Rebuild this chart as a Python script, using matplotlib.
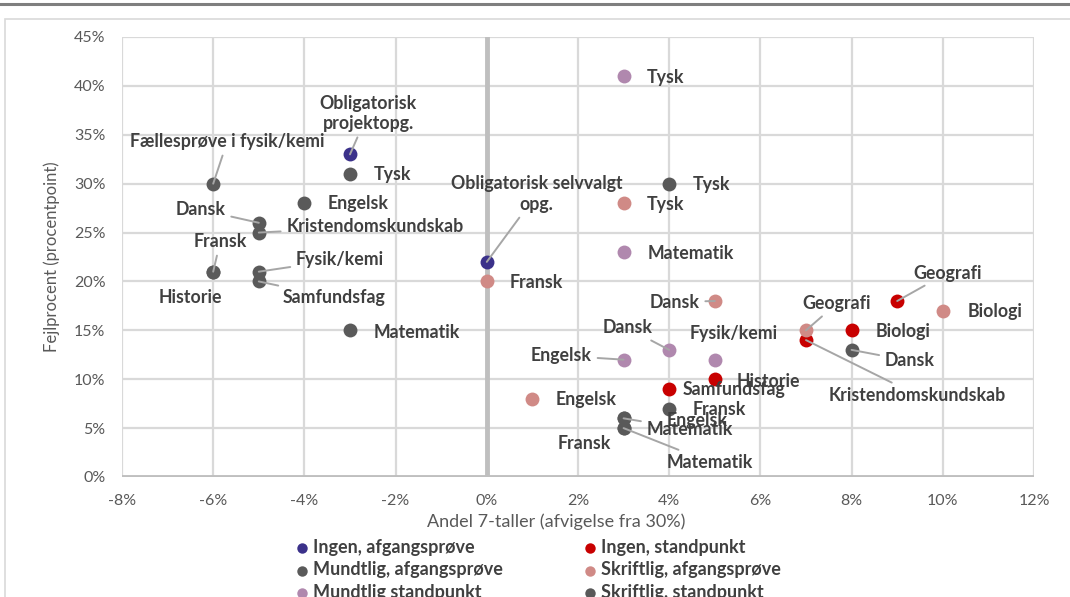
import matplotlib
matplotlib.use("Agg")
import matplotlib.pyplot as plt
from matplotlib.patches import Rectangle
from matplotlib.lines import Line2D
from matplotlib.ticker import FuncFormatter

plt.rcParams['font.family'] = ['Lato', 'DejaVu Sans']

# series data (x = andel 7-taller afvigelse i %, y = fejlprocent i %)
ingen_afg_x = [-3, 0]
ingen_afg_y = [33, 22]
ingen_afg_lab = ["Obligatorisk\nprojektopg.", "Obligatorisk selvvalgt\nopg."]

mundt_afg_x = [-6, -3, -4, -5, -5, -6, -6, -5, -5, -3]
mundt_afg_y = [30, 31, 28, 26, 25, 21, 21, 21, 20, 15]
mundt_afg_lab = ["Fællesprøve i fysik/kemi", "Tysk", "Engelsk", "Dansk",
                 "Kristendomskundskab", "Fransk", "Historie", "Fysik/kemi",
                 "Samfundsfag", "Matematik"]

mundt_std_x = [3, 3, 4, 3, 5]
mundt_std_y = [41, 23, 13, 12, 12]
mundt_std_lab = ["Tysk", "Matematik", "Dansk", "Engelsk", "Fysik/kemi"]

ingen_std_x = [9, 8, 7, 5, 4]
ingen_std_y = [18, 15, 14, 10, 9]
ingen_std_lab = ["Geografi", "Biologi", "Kristendomskundskab", "Historie", "Samfundsfag"]

skr_afg_x = [0, 3, 5, 7, 10, 1]
skr_afg_y = [20, 28, 18, 15, 17, 8]
skr_afg_lab = ["Fransk", "Tysk", "Dansk", "Geografi", "Biologi", "Engelsk"]

skr_std_x = [4, 8, 4, 3, 3, 3, 3]
skr_std_y = [30, 13, 7, 6, 6, 5, 5]
skr_std_lab = ["Tysk", "Dansk", "Fransk", "Matematik", "Engelsk", "Fransk", "Matematik"]

# label offsets in pixels (dx, dy) and whether a leader line is drawn
ingen_afg_off = [(18, 41, 1), (50, 68, 1)]
mundt_afg_off = [(14, 42, 1), (42, -1, 0), (54, 0, 0), (-58, 13, 1), (116, 6, 1),
                 (7, 30, 1), (-23, -26, 0), (81, 12, 1), (75, -16, 1), (67, -2, 0)]
mundt_std_off = [(42, -1, 0), (67, -1, 0), (-42, 22, 1), (-62, 4, 1), (19, 26, 0)]
ingen_std_off = [(50, 28, 1), (51, -1, 0), (111, -55, 1), (54, -2, 0), (65, -1, 0)]
skr_afg_off = [(50, -1, 0), (42, -1, 0), (-40, -1, 1), (31, 27, 1), (52, -1, 0), (54, -1, 0)]
skr_std_off = [(42, -1, 0), (58, -11, 1), (50, -1, 0), (66, -11, 1), (74, -2, 0),
               (-39, -15, 0), (86, -34, 1)]

series = [
    ("Ingen, afgangsprøve", "#3B318A", ingen_afg_x, ingen_afg_y, ingen_afg_lab, ingen_afg_off),
    ("Mundtlig, afgangsprøve", "#5A5A5A", mundt_afg_x, mundt_afg_y, mundt_afg_lab, mundt_afg_off),
    ("Mundtlig standpunkt", "#B088AE", mundt_std_x, mundt_std_y, mundt_std_lab, mundt_std_off),
    ("Ingen, standpunkt", "#C80000", ingen_std_x, ingen_std_y, ingen_std_lab, ingen_std_off),
    ("Skriftlig, afgangsprøve", "#D08A86", skr_afg_x, skr_afg_y, skr_afg_lab, skr_afg_off),
    ("Skriftlig, standpunkt", "#595959", skr_std_x, skr_std_y, skr_std_lab, skr_std_off),
]

fig = plt.figure(figsize=(10.7, 5.97), dpi=100)

# outer frame and top rule
fig.patches.append(Rectangle((5 / 1070, -0.05), 1.1, 1 - 19 / 597 + 0.05, transform=fig.transFigure,
                             fill=False, edgecolor="#D9D9D9", lw=1.2))
fig.add_artist(Line2D([0, 1], [1 - 4 / 597] * 2, transform=fig.transFigure, color="#7F7F7F", lw=2.2))

ax = fig.add_axes([122 / 1070, 1 - 477 / 597, 912 / 1070, 440 / 597])
ax.set_xlim(-8, 12)
ax.set_ylim(0, 45)
ax.set_xticks(range(-8, 13, 2))
ax.set_yticks(range(0, 46, 5))
pct = FuncFormatter(lambda v, p: f"{v:.0f}%")
ax.xaxis.set_major_formatter(pct)
ax.yaxis.set_major_formatter(pct)
ax.grid(True, color="#D9D9D9", lw=1.6)
ax.set_axisbelow(True)
for s in ax.spines.values():
    s.set_visible(False)
ax.axhline(0, color="#BFBFBF", lw=3.5, zorder=1)
ax.axvline(0, color="#BFBFBF", lw=3.5, zorder=1)
ax.tick_params(length=0, labelsize=11.5, labelcolor="#595959")
ax.tick_params(axis="y", pad=12)
ax.tick_params(axis="x", pad=12)

for name, col, xs, ys, labs, offs in series:
    ax.scatter(xs, ys, s=100, color=col, label=name, zorder=3, linewidths=0)
    for x, y, lab, (dx, dy, lead) in zip(xs, ys, labs, offs):
        kw = {}
        if lead:
            kw["arrowprops"] = dict(arrowstyle="-", color="#A6A6A6", lw=1.4,
                                    shrinkA=2, shrinkB=0)
        ax.annotate(lab, (x, y), xytext=(dx, dy), textcoords="offset pixels",
                    ha="center", va="center", fontsize=12.8, fontweight="bold",
                    color="#404040", linespacing=1.25, zorder=4, **kw)

fig.text(52 / 1070, 1 - 257 / 597, "Fejlprocent (procentpoint)", rotation=90,
         ha="center", va="center", fontsize=12, color="#595959")
fig.text(556 / 1070, 1 - 522 / 597, "Andel 7-taller (afvigelse fra 30%)",
         ha="center", va="center", fontsize=13, color="#595959")

fig.legend(loc="upper left", bbox_to_anchor=(293 / 1070, 1 - 539 / 597), ncol=2,
           frameon=False, labelcolor="#404040", handletextpad=0.1,
           columnspacing=4.35, labelspacing=0.3, markerscale=0.75, handlelength=1,
           borderpad=0, borderaxespad=0, prop={"weight": "bold", "size": 13})

fig.savefig("out.png", dpi=100)
